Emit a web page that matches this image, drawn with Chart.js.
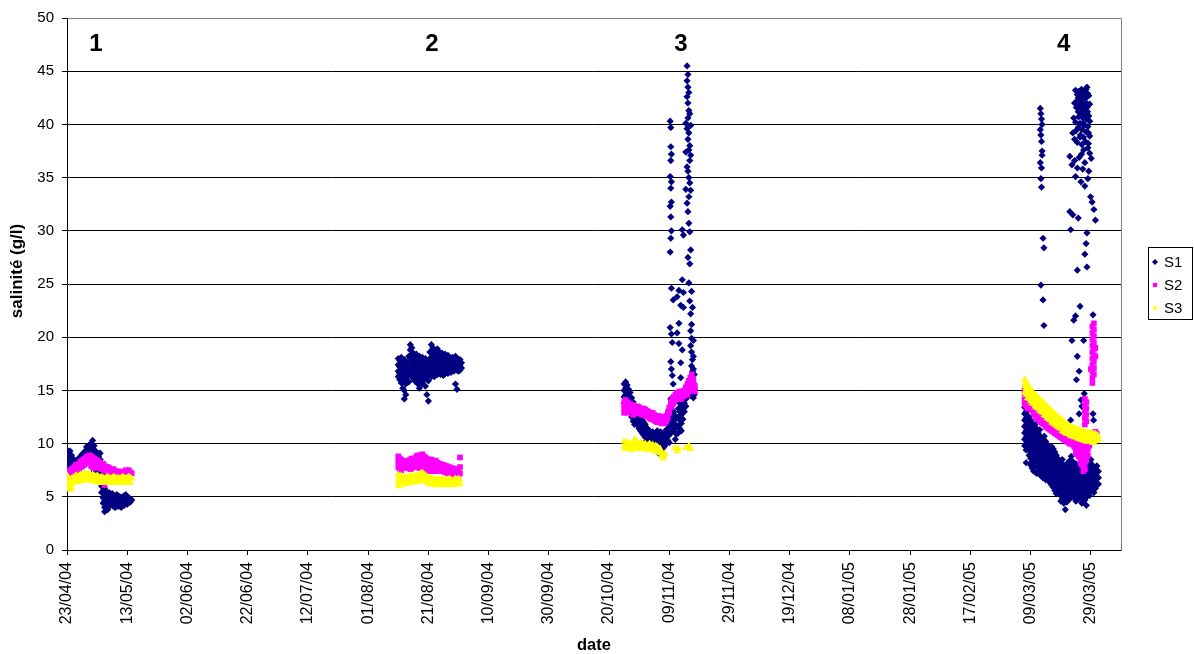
<!DOCTYPE html>
<html>
<head>
<meta charset="utf-8">
<script src="https://cdn.jsdelivr.net/npm/chart.js@4.4.0/dist/chart.umd.min.js"></script>
<style>
  html, body { margin: 0; padding: 0; background: #fff; }
  #wrap { width: 1194px; height: 654px; position: relative; }
</style>
</head>
<body>
<div id="wrap"><canvas id="chart"></canvas></div>
<script>
// x axis: days since 23/04/04, ticks every 20 days
const tickDays = [0, 20, 40, 60, 80, 100, 120, 140, 160, 180, 200, 220, 240, 260, 280, 300, 320, 340];
const tickLabels = ['23/04/04', '13/05/04', '02/06/04', '22/06/04', '12/07/04', '01/08/04', '21/08/04', '10/09/04',
  '30/09/04', '20/10/04', '09/11/04', '29/11/04', '19/12/04', '08/01/05', '28/01/05', '17/02/05', '09/03/05', '29/03/05'];

const seriesNames = ['S1', 'S2', 'S3'];
const campaignNames = ['1', '2', '3', '4'];
const campaignDays = [9.6, 121.2, 203.9, 331];
const campaignLevel = 47.5;

// each row: [day, salinity readings at that day...]
const s1Campaign1 = [
  [0, 9.4, 8.8, 8.2, 7.6, 7.0, 6.5], [0.5, 9.1, 8.5, 7.9, 7.3, 6.8], [1, 9.3, 8.7, 8.1, 7.5, 7.0],
  [1.5, 8.9, 8.4, 7.8, 7.2], [2, 8.6, 8.1, 7.6, 7.1], [2.5, 8.4, 7.9, 7.4], [3, 8.3, 7.8, 7.3],
  [3.5, 8.5, 8.0, 7.5], [4, 8.6, 8.1, 7.6], [4.5, 8.8, 8.3, 7.8], [5, 9.0, 8.5, 8.0], [5.5, 8.9, 8.4, 7.9],
  [6, 9.3, 8.8, 8.3], [6.5, 9.7, 9.1, 8.5], [7, 9.5, 9.0, 8.4], [7.5, 9.9, 9.3, 8.7], [8, 10.0, 9.4, 8.8, 8.2],
  [8.5, 10.3, 9.7, 9.1, 8.5, 7.9], [9, 9.8, 9.2, 8.6, 8.0, 7.4], [9.5, 9.3, 8.7, 8.1, 7.5],
  [10, 9.0, 8.5, 8.0, 7.5, 7.0], [10.5, 8.8, 8.3, 7.7], [11, 9.1, 8.5, 7.2, 6.4], [11.5, 8.2, 6.8, 6.0, 5.4],
  [12, 7.1, 6.3, 5.6, 4.9, 4.4], [12.5, 5.8, 5.2, 4.6, 4.0, 3.6], [13, 5.5, 5.0, 4.5, 4.0], [13.5, 5.3, 4.8, 4.3, 3.8],
  [14, 5.4, 4.9, 4.4], [14.5, 5.2, 4.7, 4.2], [15, 5.3, 4.8, 4.3], [15.5, 5.1, 4.6, 4.1], [16, 5.0, 4.5, 4.0],
  [16.5, 5.2, 4.7, 4.2], [17, 5.1, 4.6, 4.1], [17.5, 5.0, 4.5], [18, 4.9, 4.4, 4.0], [18.5, 5.0, 4.5],
  [19, 5.1, 4.6, 4.2], [19.5, 5.2, 4.7], [20, 5.0, 4.6, 4.3], [20.5, 4.9, 4.5], [21, 4.8, 4.5], [21.5, 4.7]
];
const s2Campaign1 = [
  [0, 7.4, 6.9], [0.5, 7.3, 6.8], [1, 7.5, 7.0], [1.5, 7.6, 7.1], [2, 7.7, 7.2], [2.5, 7.8, 7.3], [3, 8.0, 7.5],
  [3.5, 7.9, 7.4], [4, 8.1, 7.6], [4.5, 8.3, 7.8], [5, 8.4, 7.9], [5.5, 8.5, 8.0], [6, 8.6, 8.1], [6.5, 8.8, 8.3],
  [7, 8.7, 8.2], [7.5, 8.9, 8.4], [8, 8.8, 8.3, 7.9], [8.5, 8.7, 8.2, 7.8], [9, 8.6, 8.1, 7.7], [9.5, 8.5, 8.0],
  [10, 8.4, 7.9], [10.5, 8.3, 7.8], [11, 8.2, 7.7], [11.5, 8.0, 7.6], [12, 8.1, 7.6], [12.5, 7.9, 7.5, 6.1],
  [13, 7.8, 7.4], [13.5, 7.8, 7.3], [14, 7.7, 7.3], [14.5, 7.6, 7.2], [15, 7.5, 7.1], [15.5, 7.6, 7.1],
  [16, 7.4, 7.0], [16.5, 7.3, 6.9], [17, 7.4, 7.0], [17.5, 7.3, 6.9], [18, 7.2, 6.8], [18.5, 7.3, 6.9],
  [19, 7.4, 7.0], [19.5, 7.5, 7.0], [20, 7.4, 6.9], [20.5, 7.5, 7.0], [21, 7.3, 6.9], [21.5, 7.2]
];
const s3Campaign1 = [
  [0, 7.0, 6.5, 6.0], [0.5, 6.8, 6.3, 5.8], [1, 6.6, 6.1, 5.7], [1.5, 6.7, 6.2, 5.8], [2, 6.8, 6.3], [2.5, 6.9, 6.4],
  [3, 7.0, 6.5], [3.5, 6.9, 6.4], [4, 7.0, 6.5], [4.5, 7.1, 6.6], [5, 7.0, 6.5], [5.5, 7.1, 6.6], [6, 7.2, 6.7],
  [6.5, 7.1, 6.6], [7, 7.2, 6.7], [7.5, 7.1, 6.6], [8, 7.0, 6.5], [8.5, 7.1, 6.6], [9, 7.0, 6.5], [9.5, 6.9, 6.4],
  [10, 7.0, 6.5], [10.5, 6.9, 6.4], [11, 6.8, 6.3], [11.5, 6.9, 6.4], [12, 6.8, 6.3], [12.5, 6.7, 6.3],
  [13, 6.8, 6.4], [13.5, 6.9, 6.4], [14, 6.8, 6.3], [14.5, 6.7, 6.3], [15, 6.8, 6.4], [15.5, 6.9, 6.4],
  [16, 6.8, 6.3], [16.5, 6.7, 6.3], [17, 6.8, 6.4], [17.5, 6.7, 6.3], [18, 6.8, 6.3], [18.5, 6.9, 6.4],
  [19, 6.8, 6.3], [19.5, 6.7, 6.3], [20, 6.8, 6.4], [20.5, 6.9, 6.4], [21, 6.8, 6.3], [21.5, 6.7]
];

const s1Campaign2 = [
  [110, 18.0, 17.4, 16.8, 16.3], [110.5, 17.8, 17.2, 16.6, 16.0], [111, 18.1, 17.5, 16.9, 16.3, 15.7],
  [111.5, 17.6, 17.0, 16.4, 15.8, 15.2], [112, 17.9, 17.3, 16.7, 16.1, 15.0, 14.2], [112.5, 17.4, 16.8, 16.2, 15.6, 14.6],
  [113, 17.7, 17.1, 16.5, 15.9], [113.5, 18.2, 17.6, 17.0, 16.4, 15.8], [114, 19.3, 18.8, 18.2, 17.6, 17.0, 16.4],
  [114.5, 19.0, 18.4, 17.8, 17.2, 16.6], [115, 18.5, 17.9, 17.3, 16.7, 16.1], [115.5, 18.3, 17.7, 17.1, 16.5, 15.9],
  [116, 18.4, 17.8, 17.2, 16.6, 16.0], [116.5, 18.0, 17.4, 16.8, 16.2, 15.6], [117, 18.2, 17.6, 17.0, 16.4, 15.8, 15.2],
  [117.5, 17.9, 17.3, 16.7, 16.1, 15.5], [118, 18.1, 17.5, 16.9, 16.3, 15.7], [118.5, 17.8, 17.2, 16.6, 16.0],
  [119, 18.0, 17.4, 16.8, 16.2, 15.4], [119.5, 17.6, 17.0, 16.4, 14.6], [120, 17.7, 17.1, 16.5, 15.9, 14.0],
  [120.5, 18.6, 18.0, 17.4, 16.8], [121, 19.3, 18.7, 18.1, 17.5, 16.9, 16.3], [121.5, 19.0, 18.4, 17.8, 17.2, 16.6],
  [122, 18.7, 18.1, 17.5, 16.9, 16.3], [122.5, 18.4, 17.8, 17.2, 16.6], [123, 18.9, 18.3, 17.7, 17.1, 16.5],
  [123.5, 18.6, 18.0, 17.4, 16.8], [124, 18.3, 17.7, 17.1, 16.5], [124.5, 18.5, 17.9, 17.3, 16.7],
  [125, 18.2, 17.6, 17.0, 16.4], [125.5, 18.4, 17.8, 17.2, 16.6], [126, 18.1, 17.5, 16.9], [126.5, 18.3, 17.7, 17.1, 16.6],
  [127, 18.0, 17.4, 16.8], [127.5, 17.8, 17.2, 16.7], [128, 18.1, 17.5, 16.9], [128.5, 17.9, 17.3, 16.8],
  [129, 18.2, 17.6, 17.0, 15.6], [129.5, 18.0, 17.4, 16.9, 15.1], [130, 17.8, 17.3, 16.8], [130.5, 17.9, 17.4, 16.9],
  [131, 17.6, 17.1]
];
const s2Campaign2 = [
  [110, 8.8, 8.3, 7.8], [110.5, 8.6, 8.1, 7.6], [111, 8.5, 8.0, 7.5], [111.5, 8.3, 7.8], [112, 8.4, 7.9], [112.5, 8.2, 7.7],
  [113, 8.3, 7.8], [113.5, 8.4, 7.9], [114, 8.5, 8.0, 7.6], [114.5, 8.6, 8.1, 7.7], [115, 8.4, 7.9], [115.5, 8.6, 8.1],
  [116, 8.8, 8.3, 7.8], [116.5, 8.9, 8.4, 7.9], [117, 8.7, 8.2, 7.7], [117.5, 8.9, 8.4, 7.9], [118, 9.0, 8.5, 8.0],
  [118.5, 8.8, 8.3, 7.8], [119, 8.7, 8.2, 7.7], [119.5, 8.6, 8.1, 7.6], [120, 8.5, 8.0, 7.5], [120.5, 8.4, 7.9, 7.4],
  [121, 8.5, 8.0, 7.5], [121.5, 8.3, 7.8, 7.4], [122, 8.2, 7.7], [122.5, 8.4, 7.9, 7.4], [123, 8.2, 7.7], [123.5, 8.0, 7.5],
  [124, 8.1, 7.6], [124.5, 7.9, 7.4], [125, 8.0, 7.5], [125.5, 7.8, 7.3], [126, 7.9, 7.4], [126.5, 7.7, 7.2],
  [127, 7.8, 7.3], [127.5, 7.6, 7.1], [128, 7.7, 7.2], [128.5, 7.6, 7.1], [129, 7.5, 7.0], [129.5, 7.6, 7.1],
  [130, 7.4, 7.0], [130.5, 8.7, 7.8, 7.2]
];
const s3Campaign2 = [
  [110, 7.1, 6.6, 6.1], [110.5, 6.9, 6.4, 6.0], [111, 7.0, 6.5], [111.5, 6.8, 6.3], [112, 6.9, 6.4], [112.5, 6.7, 6.2],
  [113, 6.8, 6.3], [113.5, 6.9, 6.4], [114, 7.0, 6.5], [114.5, 6.8, 6.3], [115, 6.9, 6.4], [115.5, 7.0, 6.5],
  [116, 7.1, 6.6], [116.5, 6.9, 6.4], [117, 7.0, 6.5], [117.5, 7.2, 6.7], [118, 7.3, 6.8], [118.5, 7.1, 6.6],
  [119, 7.0, 6.5], [119.5, 6.9, 6.4], [120, 6.8, 6.3], [120.5, 6.7, 6.2], [121, 6.8, 6.3], [121.5, 6.6, 6.2],
  [122, 6.7, 6.2], [122.5, 6.5, 6.1], [123, 6.6, 6.2], [123.5, 6.7, 6.2], [124, 6.5, 6.1], [124.5, 6.6, 6.2],
  [125, 6.7, 6.3], [125.5, 6.6, 6.2], [126, 6.5, 6.1], [126.5, 6.6, 6.2], [127, 6.7, 6.3], [127.5, 6.6, 6.2],
  [128, 6.5, 6.1], [128.5, 6.6, 6.2], [129, 6.7, 6.3], [129.5, 6.6, 6.2], [130, 6.7, 6.3], [130.5, 6.6, 6.2]
];

const s1Campaign3 = [
  [185, 15.6, 15.0, 14.4, 13.8], [185.5, 15.8, 15.2, 14.6, 14.0], [186, 15.5, 14.9, 14.3, 13.7],
  [186.5, 15.1, 14.5, 13.9, 13.3], [187, 14.8, 14.2, 13.6, 13.0], [187.5, 14.3, 13.7, 13.1, 12.5],
  [188, 13.9, 13.3, 12.7, 12.1], [188.5, 13.5, 12.9, 12.3, 11.8], [189, 13.2, 12.6, 12.0], [189.5, 12.9, 12.3, 11.7],
  [190, 12.6, 12.0, 11.4], [190.5, 12.4, 11.8, 11.2], [191, 12.2, 11.6, 11.0], [191.5, 12.0, 11.4, 10.8],
  [192, 11.8, 11.2, 10.6], [192.5, 11.5, 10.9, 10.3], [193, 11.3, 10.7, 10.1], [193.5, 11.2, 10.6, 10.0],
  [194, 11.0, 10.4, 9.8], [194.5, 11.1, 10.5, 9.9], [195, 10.9, 10.3, 9.7], [195.5, 11.0, 10.4, 9.8],
  [196, 11.2, 10.6, 10.0], [196.5, 10.9, 10.3, 9.7, 9.1], [197, 11.1, 10.5, 9.9], [197.5, 11.0, 10.4, 9.8, 9.2],
  [198, 10.8, 10.2, 9.6, 8.9], [198.5, 11.0, 10.4, 9.8], [199, 11.3, 10.7, 10.1], [199.5, 11.8, 11.0, 10.3],
  [200, 13.2, 12.4, 11.6, 10.8, 10.1], [200.5, 14.2, 13.4, 12.6, 11.8, 11.0], [201, 13.6, 12.8, 12.0, 11.2],
  [201.5, 13.0, 12.2, 11.4], [202, 12.6, 11.8, 11.0, 10.4], [202.5, 12.4, 11.6, 10.9], [203, 13.3, 12.5, 11.7, 11.0],
  [203.5, 13.8, 13.0, 12.2, 11.4], [204, 13.5, 12.7, 11.9, 11.2], [204.5, 13.9, 13.1, 12.3], [205, 14.6, 13.8, 13.0],
  [205.5, 14.9, 14.2, 13.5], [206, 15.2, 14.5], [206.5, 15.6, 14.8], [207, 15.9, 15.2, 14.5], [207.5, 15.3, 14.6],
  [208, 15.0, 14.3]
];
const s1Peaks3 = [
  [200.3, 40.3, 35.1, 32.3, 28.0, 20.9], [200.5, 39.7, 37.9, 36.6, 34.0, 31.3, 29.3, 17.7],
  [200.7, 37.2, 34.6, 32.7, 30.0, 24.6, 20.3, 17.0], [201.0, 19.5, 16.4], [201.3, 23.5, 15.6],
  [202.6, 23.8, 20.4], [203.2, 24.4, 21.3, 19.4], [203.8, 23.0, 17.6, 16.2], [204.3, 30.1, 25.4, 18.8],
  [204.7, 29.6, 24.2, 22.8], [205.5, 40.1, 37.4, 33.9], [205.9, 45.5, 44.1, 42.6, 39.6, 36.0, 32.6],
  [206.2, 44.7, 43.5, 42.0, 40.6, 38.6, 35.6, 31.8, 27.5], [206.5, 43.0, 41.3, 39.2, 37.6, 35.0, 33.2, 30.7, 25.1],
  [206.8, 41.0, 38.0, 36.6, 34.5, 29.9, 26.9, 23.4], [207.1, 39.9, 37.1, 33.8, 28.2, 22.2, 20.6, 19.2],
  [207.4, 24.3, 21.2, 19.9, 18.6, 17.3], [207.7, 22.8, 17.9, 16.8, 16.2], [208.0, 19.7, 18.2, 17.0, 15.7],
  [208.3, 16.5, 15.1, 14.6]
];
const s2Campaign3 = [
  [185, 13.9, 13.4, 12.9], [185.5, 14.1, 13.6, 13.1], [186, 13.9, 13.4, 12.9], [186.5, 13.8, 13.3], [187, 13.7, 13.2],
  [187.5, 13.6, 13.1], [188, 13.6, 13.1, 12.7], [188.5, 13.5, 13.0], [189, 13.4, 12.9], [189.5, 13.5, 13.0],
  [190, 13.4, 12.9], [190.5, 13.3, 12.8], [191, 13.2, 12.7], [191.5, 13.3, 12.8], [192, 13.2, 12.7], [192.5, 13.1, 12.6],
  [193, 13.0, 12.5], [193.5, 12.9, 12.4], [194, 12.8, 12.3], [194.5, 12.9, 12.4], [195, 12.7, 12.2], [195.5, 12.6, 12.1],
  [196, 12.5, 12.0], [196.5, 12.6, 12.1], [197, 12.5, 12.0], [197.5, 12.4, 11.9], [198, 12.5, 12.0], [198.5, 12.4, 11.9],
  [199, 12.6, 12.1], [199.5, 12.9, 12.4], [200, 13.4, 12.9], [200.5, 13.9, 13.4], [201, 14.2, 13.7], [201.5, 14.4, 13.9],
  [202, 14.6, 14.1], [202.5, 14.8, 14.3], [203, 14.7, 14.2], [203.5, 14.9, 14.4], [204, 14.7, 14.2], [204.5, 14.9, 14.4],
  [205, 15.0, 14.5], [205.5, 15.3, 14.8], [206, 15.6, 15.1, 14.6], [206.5, 15.9, 15.4, 14.9], [207, 16.2, 15.7, 15.2],
  [207.5, 16.5, 16.0, 15.5], [208, 16.1, 15.6, 15.1], [208.5, 15.4, 14.9]
];
const s3Campaign3 = [
  [185, 10.2, 9.7], [185.5, 9.9, 9.5], [186, 10.1, 9.6], [186.5, 9.9, 9.5], [187, 10.0, 9.6], [187.5, 9.8, 9.4],
  [188, 10.1, 9.6], [188.5, 10.4, 9.9], [189, 10.3, 9.8], [189.5, 10.0, 9.6], [190, 9.9, 9.5], [190.5, 10.1, 9.6],
  [191, 10.0, 9.5], [191.5, 9.9, 9.5], [192, 10.0, 9.6], [192.5, 9.8, 9.4], [193, 9.9, 9.5], [193.5, 10.0, 9.6],
  [194, 9.8, 9.4], [194.5, 9.9, 9.5], [195, 9.7, 9.3], [195.5, 9.8, 9.4], [196, 9.7, 9.3], [196.5, 9.6, 9.2],
  [197, 9.5, 9.1], [197.5, 9.2, 8.9], [198, 8.8, 8.6], [198.5, 9.0], [202, 9.6], [202.5, 9.3], [203, 9.5],
  [205.5, 9.6], [206.5, 9.8], [207, 9.5]
];

const s1Campaign4 = [
  [318, 13.4, 12.8, 12.2, 11.6, 11.0, 10.4, 9.8], [318.5, 13.0, 12.4, 11.8, 11.2, 10.6, 10.0, 9.4, 8.2],
  [319, 13.2, 12.6, 12.0, 11.4, 10.8, 10.2, 9.6], [319.5, 12.5, 11.9, 11.3, 10.7, 10.1, 9.5, 8.9],
  [320, 12.2, 11.6, 11.0, 10.4, 9.8, 9.2, 8.6, 8.0], [320.5, 11.9, 11.3, 10.7, 10.1, 9.5, 8.9, 8.3, 7.7],
  [321, 11.6, 11.0, 10.4, 9.8, 9.2, 8.6, 8.0, 7.4], [321.5, 11.8, 11.2, 10.6, 10.0, 9.4, 8.8, 8.2],
  [322, 11.4, 10.8, 10.2, 9.6, 9.0, 8.4, 7.8, 7.2], [322.5, 11.0, 10.4, 9.8, 9.2, 8.6, 8.0, 7.4],
  [323, 11.3, 10.7, 10.1, 9.5, 8.9, 8.3, 7.7, 7.1], [323.5, 10.6, 10.0, 9.4, 8.8, 8.2, 7.6, 7.0],
  [324, 10.4, 9.8, 9.2, 8.6, 8.0, 7.4, 6.8], [324.5, 10.7, 10.1, 9.5, 8.9, 8.3, 7.7, 7.1],
  [325, 10.2, 9.6, 9.0, 8.4, 7.8, 7.2, 6.6], [325.5, 9.9, 9.3, 8.7, 8.1, 7.5, 6.9], [326, 9.6, 9.0, 8.4, 7.8, 7.2, 6.6],
  [326.5, 9.3, 8.7, 8.1, 7.5, 6.9, 6.3], [327, 9.7, 9.1, 8.5, 7.9, 7.3, 6.7, 6.1], [327.5, 9.5, 8.9, 8.3, 7.7, 7.1, 6.5, 5.9],
  [328, 9.2, 8.6, 8.0, 7.4, 6.8, 6.2, 5.6], [328.5, 8.9, 8.3, 7.7, 7.1, 6.5, 5.9, 5.3], [329, 8.6, 8.0, 7.4, 6.8, 6.2, 5.6],
  [329.5, 8.4, 7.8, 7.2, 6.6, 6.0, 5.4], [330, 8.2, 7.6, 7.0, 6.4, 5.8, 5.2, 4.6], [330.5, 8.5, 7.9, 7.3, 6.7, 6.1, 5.5, 4.9],
  [331, 8.0, 7.4, 6.8, 6.2, 5.6, 5.0, 4.4], [331.5, 7.8, 7.2, 6.6, 6.0, 5.4, 4.8, 3.8], [332, 8.1, 7.5, 6.9, 6.3, 5.7, 5.1, 4.5],
  [332.5, 7.7, 7.1, 6.5, 5.9, 5.3, 4.7], [333, 8.4, 7.8, 7.2, 6.6, 6.0, 5.4, 4.8], [333.5, 8.8, 8.2, 7.6, 7.0, 6.4, 5.8, 5.2],
  [334, 8.3, 7.7, 7.1, 6.5, 5.9, 5.3], [334.5, 7.9, 7.3, 6.7, 6.1, 5.5, 4.9], [335, 8.1, 7.5, 6.9, 6.3, 5.7, 5.1, 4.6],
  [335.5, 7.6, 7.0, 6.4, 5.8, 5.2, 4.7], [336, 7.8, 7.2, 6.6, 6.0, 5.4, 4.8], [336.5, 8.2, 7.6, 7.0, 6.4, 5.8, 5.2],
  [337, 7.9, 7.3, 6.7, 6.1, 5.5, 4.9, 4.4], [337.5, 7.5, 6.9, 6.3, 5.7, 5.1, 4.5], [338, 7.7, 7.1, 6.5, 5.9, 5.3, 4.7],
  [338.5, 8.0, 7.4, 6.8, 6.2, 5.6, 5.0, 4.2], [339, 8.4, 7.8, 7.2, 6.6, 6.0, 5.4], [339.5, 8.1, 7.5, 6.9, 6.3, 5.7, 5.1],
  [340, 8.5, 7.9, 7.3, 6.7, 6.1, 5.5], [340.5, 8.0, 7.4, 6.8, 6.2, 5.6], [341, 7.8, 7.2, 6.6, 6.0, 5.4],
  [341.5, 7.6, 7.0, 6.4, 5.8], [342, 7.9, 7.3, 6.7, 6.1], [342.5, 7.4, 6.8, 6.2]
];
const s1Peaks4 = [
  [323.2, 41.5, 39.5, 36.4], [323.4, 41.0, 39.0, 34.9, 24.9], [323.6, 40.5, 38.4, 35.9, 34.1], [323.8, 40.0, 37.5, 37.1],
  [324.1, 29.3, 23.5], [324.4, 28.4, 21.1], [333.0, 37.0, 31.8], [333.3, 30.1, 12.2, 10.3], [333.7, 36.2, 19.7, 11.1],
  [334.0, 39.2, 31.5], [334.3, 40.6, 21.6], [334.6, 42.0, 38.6, 36.6], [334.9, 43.2, 40.2, 35.1, 22.0],
  [335.2, 41.6, 16.0], [335.5, 42.8, 38.3, 35.9, 26.3, 18.2], [335.8, 42.5, 41.2, 39.7, 31.2],
  [336.1, 41.8, 36.9, 16.8, 12.8], [336.4, 42.9, 40.1, 38.8, 22.9], [336.7, 42.3, 41.1, 34.6, 14.1],
  [337.0, 39.5, 38.1, 13.5], [337.3, 43.0, 40.6, 35.8], [337.6, 42.6, 41.4, 37.6, 19.7], [337.8, 39.9, 14.7],
  [338.0, 36.4, 34.2, 27.8], [338.2, 40.9, 38.4], [338.4, 43.3, 39.3, 28.8], [338.7, 43.5, 41.6, 29.8, 26.6],
  [339.0, 39.8, 37.8, 34.9], [339.3, 42.7, 40.8, 35.6], [339.6, 41.9, 40.3, 38.9, 37.3], [339.9, 33.2],
  [340.1, 36.8], [340.4, 32.7], [340.7, 22.1, 12.8], [340.9, 12.2], [341.0, 32.0], [341.5, 31.0],
  [335.0, 42.1, 39.4], [335.9, 43.1, 40.7], [336.5, 41.6, 39.0], [337.1, 42.0, 41.0], [337.5, 40.1, 38.8],
  [338.1, 42.4, 41.8], [338.5, 42.0, 40.5], [338.9, 42.9, 41.2], [339.2, 39.2, 38.2], [336.9, 43.3, 37.2]
];
const s2Campaign4 = [
  [318, 15.2, 14.7, 14.2, 13.7], [318.5, 15.0, 14.5, 14.0, 13.5], [319, 14.8, 14.3, 13.8, 13.3], [319.5, 14.6, 14.1, 13.6],
  [320, 14.4, 13.9, 13.4], [320.5, 14.1, 13.6, 13.1], [321, 13.8, 13.3, 12.8], [321.5, 13.6, 13.1, 12.6],
  [322, 13.4, 12.9, 12.4], [322.5, 13.2, 12.7, 12.3], [323, 13.0, 12.5, 12.1], [323.5, 12.9, 12.4, 12.0],
  [324, 12.8, 12.3, 11.9], [324.5, 12.6, 12.2, 11.8], [325, 12.5, 12.0, 11.6], [325.5, 12.4, 11.9, 11.5],
  [326, 12.2, 11.8, 11.4], [326.5, 12.1, 11.7, 11.3], [327, 12.0, 11.6, 11.2], [327.5, 11.9, 11.5, 11.1],
  [328, 11.8, 11.4, 11.0], [328.5, 11.7, 11.3, 10.9], [329, 11.6, 11.2, 10.8], [329.5, 11.5, 11.1, 10.7],
  [330, 11.4, 11.0, 10.6], [330.5, 11.3, 10.9, 10.5], [331, 11.2, 10.8, 10.4], [331.5, 11.1, 10.7, 10.3],
  [332, 11.0, 10.6, 10.2], [332.5, 10.9, 10.5, 10.1], [333, 10.8, 10.4, 10.0], [333.5, 10.8, 10.4, 10.0],
  [334, 10.7, 10.3, 9.9], [334.5, 10.7, 10.2, 9.7], [335, 10.6, 10.1, 9.6, 9.1], [335.5, 10.5, 10.0, 9.5, 9.0],
  [336, 10.5, 10.0, 9.4, 8.8], [336.5, 10.4, 9.9, 9.3, 8.7, 8.2], [337, 10.4, 9.8, 9.2, 8.6, 8.0],
  [337.5, 10.3, 9.7, 9.1, 8.5, 7.9, 7.4], [338, 14.2, 13.6, 13.0, 12.4, 11.8, 10.3, 9.6, 8.9, 8.2, 7.6],
  [338.5, 13.9, 13.3, 12.7, 12.1, 10.4, 9.8, 9.1, 8.4], [339, 10.6, 10.1, 9.5, 8.9], [339.5, 10.8, 10.3, 9.8],
  [340, 17.0, 11.0, 10.5], [340.5, 21.0, 20.4, 19.8, 19.2, 18.6, 18.0, 17.4, 16.8, 16.2, 15.7, 10.9, 10.4],
  [341, 21.3, 20.7, 20.1, 19.5, 18.9, 18.3, 17.7, 17.1, 16.5, 11.0, 10.5], [341.5, 19.0, 18.2, 11.1, 10.6],
  [342, 10.9, 10.4]
];
const s3Campaign4 = [
  [318, 16.0, 15.4, 14.8], [318.5, 15.8, 15.2, 14.6], [319, 15.5, 14.9, 14.3], [319.5, 15.3, 14.7, 14.2],
  [320, 15.1, 14.5, 14.0], [320.5, 14.9, 14.3, 13.8], [321, 14.7, 14.2, 13.7], [321.5, 14.6, 14.0, 13.5],
  [322, 14.4, 13.9, 13.4], [322.5, 14.3, 13.8, 13.3], [323, 14.1, 13.6, 13.1], [323.5, 14.0, 13.5, 13.0],
  [324, 13.9, 13.4, 12.9], [324.5, 13.7, 13.2, 12.7], [325, 13.6, 13.1, 12.6], [325.5, 13.4, 12.9, 12.4],
  [326, 13.3, 12.8, 12.3], [326.5, 13.2, 12.7, 12.2], [327, 13.0, 12.5, 12.0], [327.5, 12.9, 12.4, 11.9],
  [328, 12.8, 12.3, 11.8], [328.5, 12.6, 12.1, 11.7], [329, 12.5, 12.0, 11.6], [329.5, 12.4, 11.9, 11.5],
  [330, 12.3, 11.8, 11.4], [330.5, 12.2, 11.7, 11.2], [331, 12.0, 11.6, 11.1], [331.5, 11.9, 11.5, 11.0],
  [332, 11.8, 11.4, 10.9], [332.5, 11.7, 11.3, 10.9], [333, 11.6, 11.2, 10.8], [333.5, 11.6, 11.1, 10.7],
  [334, 11.5, 11.1, 10.7], [334.5, 11.4, 11.0, 10.6], [335, 11.4, 11.0, 10.6], [335.5, 11.3, 10.9, 10.5],
  [336, 11.3, 10.9, 10.5], [336.5, 11.2, 10.8, 10.4], [337, 11.2, 10.8, 10.4], [337.5, 11.1, 10.7, 10.3],
  [338, 11.1, 10.7, 10.3], [338.5, 11.0, 10.6, 10.2], [339, 11.0, 10.6, 10.2], [339.5, 11.0, 10.6, 10.2],
  [340, 11.0, 10.6, 10.2], [340.5, 10.9, 10.5, 10.1], [341, 10.9, 10.5, 10.1], [341.5, 10.9, 10.5],
  [342, 10.8, 10.4], [342.5, 10.7, 10.3]
];

function toPoints(...groups) {
  const pts = [];
  groups.forEach(rows => rows.forEach(r => r.slice(1).forEach(v => pts.push({ x: r[0], y: v }))));
  return pts;
}

const FONT = '"Liberation Sans", Arial, sans-serif';
const colors = ['#000080', '#FF00FF', '#FFFF00'];
const styles = ['rectRot', 'rect', 'triangle'];
const radii = [3.6, 4, 4.2];

const decor = {
  id: 'decor',
  afterDraw(chart) {
    const { ctx, chartArea: a, scales: { x, y } } = chart;
    ctx.save();
    // grey frame top/right like excel plot area
    ctx.strokeStyle = '#808080';
    ctx.lineWidth = 1;
    ctx.beginPath();
    ctx.moveTo(Math.round(a.left) + 0.5, Math.round(a.top) + 0.5);
    ctx.lineTo(Math.round(a.right) + 0.5, Math.round(a.top) + 0.5);
    ctx.lineTo(Math.round(a.right) + 0.5, Math.round(a.bottom) + 0.5);
    ctx.stroke();

    ctx.fillStyle = '#000';
    ctx.textAlign = 'center';
    ctx.textBaseline = 'middle';
    ctx.font = 'bold 24px ' + FONT;
    campaignNames.forEach((n, i) => {
      ctx.fillText(n, x.getPixelForValue(campaignDays[i]), y.getPixelForValue(campaignLevel));
    });

    // axis titles
    ctx.font = 'bold 16.5px ' + FONT;
    ctx.fillText('date', (a.left + a.right) / 2, 645);
    ctx.save();
    ctx.translate(17, (a.top + a.bottom) / 2 - 13);
    ctx.rotate(-Math.PI / 2);
    ctx.font = 'bold 17px ' + FONT;
    ctx.fillText('salinité (g/l)', 0, 0);
    ctx.restore();

    // legend
    ctx.strokeStyle = '#000';
    ctx.strokeRect(1148.5, 247.5, 44, 72);
    ctx.textAlign = 'left';
    ctx.font = '15px ' + FONT;
    seriesNames.forEach((name, i) => {
      const ly = 262 + i * 23;
      ctx.fillStyle = colors[i];
      Chart.helpers.drawPoint(ctx, { pointStyle: styles[i], radius: 3, rotation: 0, borderWidth: 0 }, 1155, ly);
      ctx.fillStyle = '#000';
      ctx.fillText(name, 1164, ly + 1);
    });
    ctx.restore();
  }
};

const seriesData = [
  toPoints(s1Campaign1, s1Campaign2, s1Campaign3, s1Peaks3, s1Campaign4, s1Peaks4),
  toPoints(s2Campaign1, s2Campaign2, s2Campaign3, s2Campaign4),
  toPoints(s3Campaign1, s3Campaign2, s3Campaign3, s3Campaign4)
];

new Chart(document.getElementById('chart'), {
  type: 'scatter',
  data: {
    datasets: seriesNames.map((name, i) => ({
      label: name,
      data: seriesData[i],
      pointStyle: styles[i],
      pointRadius: radii[i],
      pointBackgroundColor: colors[i],
      pointBorderColor: colors[i],
      pointBorderWidth: 0,
      order: 3 - i
    }))
  },
  options: {
    responsive: true,
    maintainAspectRatio: false,
    animation: false,
    devicePixelRatio: 1,
    layout: { padding: { top: 18, right: 73, left: 0, bottom: 0 } },
    plugins: { legend: { display: false }, tooltip: { enabled: false } },
    scales: {
      x: {
        type: 'linear',
        min: 0,
        max: 350,
        afterBuildTicks: s => { s.ticks = tickDays.map(v => ({ value: v })); },
        afterFit: s => { s.height = 104; },
        ticks: {
          autoSkip: false,
          maxRotation: 90,
          minRotation: 90,
          padding: 7,
          color: '#000',
          font: { family: FONT, size: 16 },
          callback: v => tickLabels[tickDays.indexOf(v)]
        },
        grid: { drawOnChartArea: false, drawTicks: true, tickLength: 5, color: '#000' },
        border: { color: '#000' }
      },
      y: {
        min: 0,
        max: 50,
        afterFit: s => { s.width = 67; },
        ticks: { stepSize: 5, padding: 8, color: '#000', font: { family: FONT, size: 15 } },
        grid: { color: '#000', tickLength: 5 },
        border: { color: '#000' }
      }
    }
  },
  plugins: [decor]
});
</script>
</body>
</html>
